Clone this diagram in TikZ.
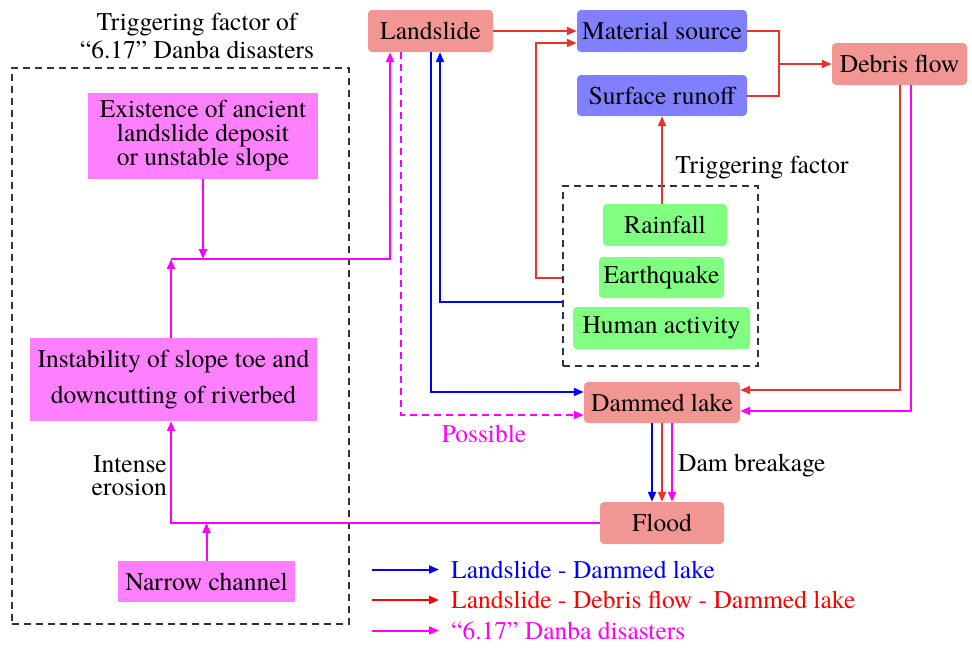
\documentclass[tikz,border=0pt]{standalone}
\usepackage{fontspec}
\setmainfont{TeX Gyre Termes}
\usetikzlibrary{arrows.meta}

\definecolor{salmon}{RGB}{241,150,146}
\definecolor{lilac}{RGB}{128,128,255}
\definecolor{mint}{RGB}{128,255,128}
\definecolor{pinkish}{RGB}{255,128,255}
\definecolor{lnred}{RGB}{232,52,43}
\definecolor{lnblue}{RGB}{0,0,255}
\definecolor{lnmag}{RGB}{255,0,255}

\begin{document}
\begin{tikzpicture}[x=1pt, y=-1pt,
    every node/.style={font=\fontsize{25.5}{24}\selectfont, inner sep=0pt},
    hazard/.style={fill=salmon, rounded corners=4pt},
    source/.style={fill=lilac, rounded corners=4pt},
    trigger/.style={fill=mint, rounded corners=4pt},
    cause/.style={fill=pinkish, align=center},
    frame/.style={draw=black!80, line width=1.6pt, dash pattern=on 7pt off 5pt},
    link/.style={line width=2pt, -{Triangle[length=10pt,width=8pt]}},
  ]
  \useasboundingbox (0,0) rectangle (972,648);

  % hazard chain
  \node[hazard, minimum width=125pt, minimum height=42pt] (land) at (430.5,31) {Landslide};
  \node[source, minimum width=170pt, minimum height=42pt] (mat) at (662,31) {Material source};
  \node[source, minimum width=170pt, minimum height=41pt] (runoff) at (662,95.5) {Surface runoff};
  \node[hazard, minimum width=135pt, minimum height=42pt] (debris) at (899.5,64) {Debris flow};
  \node[hazard, minimum width=156pt, minimum height=41pt] (dam) at (662,402.5) {Dammed lake};
  \node[hazard, minimum width=124pt, minimum height=42pt] (flood) at (662,523) {Flood};

  % triggering factors
  \node[trigger, minimum width=124pt, minimum height=42pt] (rain) at (665,225) {Rainfall};
  \node[trigger, minimum width=125pt, minimum height=41pt] (quake) at (661.5,277.5) {Earthquake};
  \node[trigger, minimum width=177pt, minimum height=42pt] (human) at (661.5,328) {Human activity};
  \node[frame, minimum width=195pt, minimum height=180pt] (trig) at (660.5,276) {};
  \node (trigtxt) at (762,168) {Triggering factor};

  % left block
  \node[frame, minimum width=337pt, minimum height=556pt] (danba) at (180.5,346) {};
  \node[align=center, font=\fontsize{25.5}{28}\selectfont] (title) at (197,36) {Triggering factor of\\``6.17'' Danba disasters};
  \node[cause, minimum width=230pt, minimum height=86pt] (exist) at (203,136)
    {Existence of ancient\\landslide deposit\\or unstable slope};
  \node[cause, minimum width=287pt, minimum height=83pt] (inst) at (173.5,379.5)
    {Instability of slope toe and\\[12pt]downcutting of riverbed};
  \node[cause, minimum width=177pt, minimum height=41pt] (narrow) at (206.5,581.5) {Narrow channel};
  \node[align=right, anchor=east, font=\fontsize{25.5}{23}\selectfont] (erosion) at (167,476) {Intense\\erosion};

  \coordinate (jm) at (171,259);
  \coordinate (mx) at (536,43);
  \coordinate (hb) at (440,302);
  \coordinate (jn) at (779,64);

  % red: landslide - debris flow - dammed lake
  \draw[link, lnred] (land.east) -- (mat.west);
  \draw[link, lnred] (trig.west |- quake) -| (mx) -- (mat.west |- mx);
  \draw[link, lnred] (rain.north -| runoff.south) -- (runoff.south);
  \draw[line width=2pt, lnred] (mat.east) -| (jn) |- (runoff.east);
  \draw[link, lnred] (jn) -- (debris.west);
  \draw[link, lnred] (debris.south) |- ([yshift=12.5pt]dam.east);

  % blue: landslide - dammed lake
  \draw[link, lnblue] (trig.west |- hb) -| (land.south -| hb);
  \draw[link, lnblue] (land.south) |- ([yshift=10.5pt]dam.west);

  % magenta: danba
  \draw[link, lnmag] ([xshift=11.5pt]debris.south) |- ([yshift=-8.5pt]dam.west -| dam.east);
  \draw[link, lnmag, dash pattern=on 7pt off 5pt] ([xshift=-29.5pt]land.south) |- ([yshift=-12.5pt]dam.west);
  \node[text=lnmag] (possible) at (484,434) {Possible};
  \draw[link, lnmag] (exist.south) -- (exist.south |- jm);
  \draw[link, lnmag] (inst.north -| jm) -- (jm);
  \draw[link, lnmag] (jm) -| ([xshift=-40.5pt]land.south);
  \draw[link, lnmag] (flood.west) -| (inst.south -| jm);
  \draw[link, lnmag] (narrow.north) -- (narrow.north |- flood.west);

  % dam breakage
  \draw[link, lnblue] ([xshift=-10pt]dam.south) -- ([xshift=-10pt]dam.south |- flood.north);
  \draw[link, lnred] (dam.south) -- (dam.south |- flood.north);
  \draw[link, lnmag] ([xshift=10pt]dam.south) -- ([xshift=10pt]dam.south |- flood.north);
  \node[anchor=west] (breakage) at (678,466) {Dam breakage};

  % legend
  \foreach \c/\t [count=\i] in {lnblue/Landslide - Dammed lake,
      red/Landslide - Debris flow - Dammed lake,
      lnmag/``6.17'' Danba disasters}
  {
    \coordinate (ka\i) at (372,539+30.5*\i);
    \coordinate (kb\i) at (439,539+30.5*\i);
    \draw[link, \c] (ka\i) -- (kb\i);
    \node[anchor=west, text=\c] (key\i) at (451,539+30.5*\i) {\t};
  }
\end{tikzpicture}
\end{document}
